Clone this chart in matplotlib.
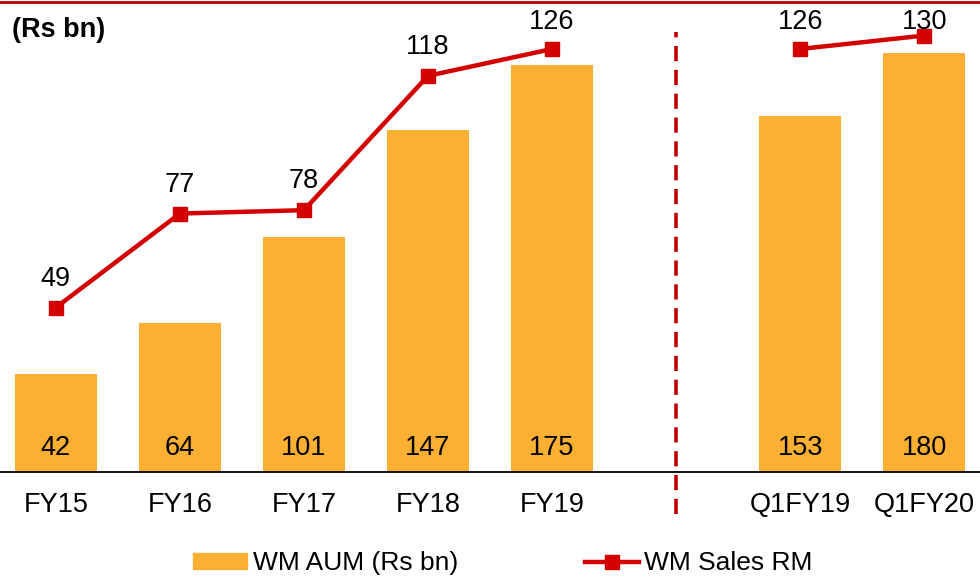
import matplotlib.pyplot as plt
from matplotlib.lines import Line2D
from matplotlib.patches import Patch
import numpy as np

plt.rcParams['font.family'] = ['Liberation Sans', 'DejaVu Sans']

# data (slot 5 is the gap between annual and quarterly)
categories = ["FY15", "FY16", "FY17", "FY18", "FY19", "", "Q1FY19", "Q1FY20"]
wm_aum = [42, 64, 101, 147, 175, np.nan, 153, 180]
wm_sales_rm = [49, 77, 78, 118, 126, np.nan, 126, 130]

bar_color = "#FBB034"
line_color = "#D40000"
fs = 19.5

fig = plt.figure(figsize=(9.8, 5.8), dpi=100)
ax = fig.add_axes([0.0, 0.186, 1.0, 0.8106])
ax2 = ax.twinx()

x = np.arange(len(categories))
aum = np.array(wm_aum, dtype=float)
rm = np.array(wm_sales_rm, dtype=float)

ax.bar(x, aum, width=0.66, color=bar_color, zorder=2)
for xi, v in zip(x, aum):
    if not np.isnan(v):
        ax.text(xi, 10.5, f"{v:.0f}", ha="center", va="center", fontsize=fs)

ax2.plot(x, rm, color=line_color, lw=3.2, marker="s", markersize=10, zorder=3)
for xi, v in zip(x, rm):
    if not np.isnan(v):
        ax2.text(xi, min(v + 8.6, 134.0), f"{v:.0f}", ha="center", va="center",
                 fontsize=fs, zorder=4)

ax.set_xlim(-0.45, 7.45)
ax.set_ylim(0, 202)
ax2.set_ylim(0, 140)

ax.set_xticks([i for i, c in enumerate(categories) if c])
ax.set_xticklabels([c for c in categories if c], fontsize=fs)
ax.tick_params(axis="x", length=0, pad=14)
ax.set_yticks([])
ax2.set_yticks([])
for s in ["top", "left", "right"]:
    ax.spines[s].set_visible(False)
    ax2.spines[s].set_visible(False)
ax2.spines["bottom"].set_visible(False)
ax.spines["bottom"].set_linewidth(1.3)

# divider between annual and quarterly
ax.plot([5, 5], [-18, 189], color="#C00000", lw=2.6, ls=(0, (4.2, 2.4)),
        clip_on=False, zorder=4)

ax.text(0.012, 0.94, "(Rs bn)", transform=ax.transAxes, fontsize=fs,
        fontweight="bold", ha="left", va="center")

# red rule at top
fig.add_artist(Line2D([0, 1], [0.9965, 0.9965], color="#C00000", lw=2))

handles = [Patch(color=bar_color),
           Line2D([], [], color=line_color, lw=3.2, marker="s", markersize=9.5)]
fig.legend(handles, ["WM AUM (Rs bn)", "WM Sales RM"], loc="center",
           bbox_to_anchor=(0.513, 0.029), ncol=2, frameon=False, fontsize=19,
           handlelength=2.05, handletextpad=0.2, columnspacing=4.8, handleheight=0.53)

fig.savefig("out.png", dpi=100)
